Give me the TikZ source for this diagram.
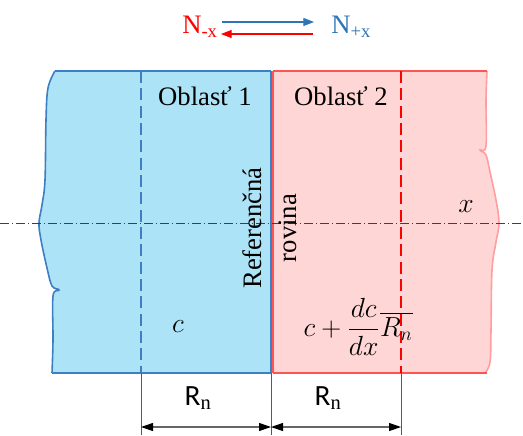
\documentclass[tikz,border=0pt]{standalone}
\usepackage{amsmath}
\usepackage{fontspec}
\setmainfont{Liberation Serif}
\newfontfamily\calib{Carlito}
\usetikzlibrary{arrows.meta}
\definecolor{bfill}{HTML}{ADE3F7}
\definecolor{bline}{HTML}{3E7EC2}
\definecolor{rfill}{HTML}{FFD6D6}
\definecolor{rline}{HTML}{FF5454}
\definecolor{rlight}{HTML}{FF9E9E}
\definecolor{ntxtb}{HTML}{2E75B6}
\tikzset{
  big/.style={font=\fontsize{20}{24}\selectfont, inner sep=0pt},
  mth/.style={font=\fontsize{21}{25}\selectfont, inner sep=0pt},
  dimlbl/.style={font=\calib\fontsize{22}{26}\selectfont, inner sep=0pt},
  dimarrow/.style={draw=gray!80!black, line width=0.8pt, {Triangle[length=9pt,width=6pt,fill=black,color=black]}-{Triangle[length=9pt,width=6pt,fill=black,color=black]}},
  extline/.style={draw=gray!70!black, line width=0.5pt},
  nlbl/.style={font=\fontsize{20}{24}\selectfont, inner sep=0pt}
}
\begin{document}
\begin{tikzpicture}[x=0.75pt,y=-0.75pt]
\useasboundingbox (0,0) rectangle (523,435);
% blue region
\fill[bfill] (55,71) -- (271,71) -- (271,373) -- (52,373)
  -- plot[smooth, tension=0.6] coordinates {(52,373) (53,340) (53,296) (59,290) (52,286) (47,268) (41,240) (39,223) (42,205) (45,180) (46,120) (48,88) (55,71)} -- cycle;
\draw[bline, line width=1.3pt] (55,71) -- (271,71);
\draw[bline, line width=1.3pt] (52,373) -- (271,373);
\draw[bline, line width=1.2pt] plot[smooth, tension=0.6] coordinates {(52,373) (53,340) (53,296) (59,290) (52,286) (47,268) (41,240) (39,223) (42,205) (45,180) (46,120) (48,88) (55,71)};
% red region
\fill[rfill] (273,71) -- (487,71)
  -- plot[smooth, tension=0.6] coordinates {(487,71) (486,100) (486,146) (480,150) (486,155) (490,172) (496,200) (499,223) (496,242) (492,270) (491,330) (490,362) (485,373)} -- (273,373) -- cycle;
\draw[rlight, line width=1.2pt] plot[smooth, tension=0.6] coordinates {(487,71) (486,100) (486,146) (480,150) (486,155) (490,172) (496,200) (499,223) (496,242) (492,270) (491,330) (490,362) (485,373)};
\draw[rline, line width=1.3pt] (273,71) -- (487,71);
\draw[rline, line width=1.3pt] (273,373) -- (487,373);
% reference plane
\draw[bline, line width=1.2pt] (271,71) -- (271,373);
\draw[rline, line width=1.2pt] (273,71) -- (273,373);
% dashed lines
\draw[bline, line width=0.8pt, dash pattern=on 9pt off 4pt] (141,71) -- (141,373);
\draw[red, line width=1pt, dash pattern=on 9pt off 4pt] (401,71) -- (401,373);
% centerline
\draw[black!75, line width=0.6pt, dash pattern=on 7pt off 2pt on 1pt off 2pt] (0,223) -- (523,223);
% texts
\node[big] (o1) at (205,96) {Oblasť 1};
\node[big] (o2) at (341,96) {Oblasť 2};
\node[big, rotate=90] (ref) at (252,228) {Referenčná};
\node[big, rotate=90] (rov) at (288,228) {rovina};
\node[mth] (xl) at (466,207) {$x$};
\node[mth] (cl) at (178,327) {$c$};
\node[mth] (cf) at (358,327) {$c+\dfrac{dc}{dx}\overline{R_n}$};
% dimensions
\coordinate (e1t) at (141,373); \coordinate (e1b) at (141,435);
\coordinate (e2t) at (271,373); \coordinate (e2b) at (271,435);
\coordinate (e3t) at (401,373); \coordinate (e3b) at (401,435);
\draw[extline] (e1t) -- (e1b);
\draw[extline] (e2t) -- (e2b);
\draw[extline] (e3t) -- (e3b);
\coordinate (d1) at (141,427); \coordinate (d2) at (271,427); \coordinate (d3) at (401,427);
\draw[dimarrow] (d1) -- (d2);
\draw[dimarrow] (d2) -- (d3);
\node[dimlbl] (r1) at (198,398) {R$_\mathrm{n}$};
\node[dimlbl] (r2) at (328,398) {R$_\mathrm{n}$};
% top N labels
\node[nlbl, text=red, anchor=west] (nm) at (182,27) {N$_{\text{-x}}$};
\node[nlbl, text=ntxtb, anchor=west] (np) at (331,27) {N$_{\text{+x}}$};
\coordinate (a1) at (222,22); \coordinate (a2) at (314,22);
\coordinate (b1) at (313,34); \coordinate (b2) at (221,34);
\draw[ntxtb, line width=0.8pt, -{Triangle[length=8pt,width=6pt]}] (a1) -- (a2);
\draw[red, line width=0.8pt, -{Triangle[length=8pt,width=6pt]}] (b1) -- (b2);
\end{tikzpicture}
\end{document}
